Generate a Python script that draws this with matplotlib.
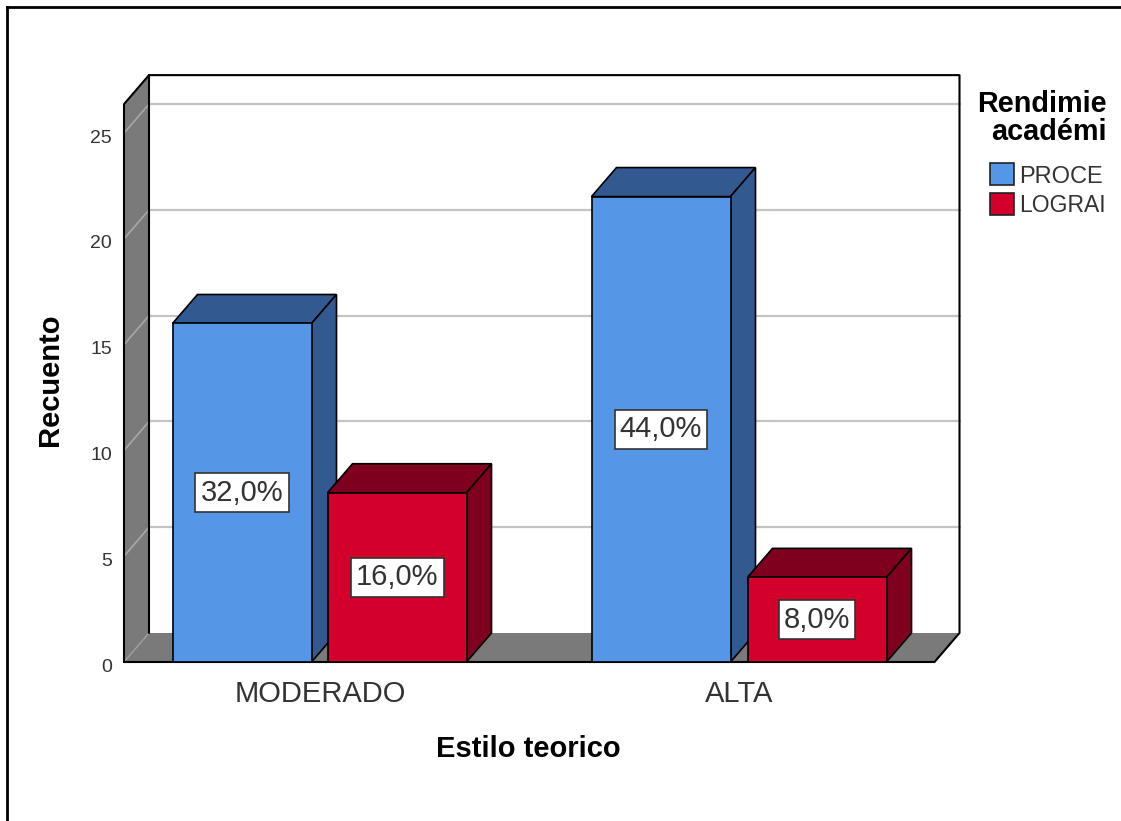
import matplotlib
matplotlib.use("Agg")
import matplotlib.pyplot as plt
from matplotlib.patches import Polygon, Rectangle
from matplotlib.transforms import ScaledTranslation

categories = ["MODERADO", "ALTA"]
series_names = ["PROCE", "LOGRAI"]
legend_title = ["Rendimie", "académi"]
proceso = [16, 22]
logrado = [8, 4]
labels_proceso = ["32,0%", "44,0%"]
labels_logrado = ["16,0%", "8,0%"]
yticks = [0, 5, 10, 15, 20, 25]

W, H = 1121, 821
plt.rcParams['font.family'] = ['Liberation Sans', 'DejaVu Sans']
fig = plt.figure(figsize=(W/100, H/100), dpi=100, facecolor='white')

# Figure frame in pixels
bg = fig.add_axes([0, 0, 1, 1])
bg.set_xlim(0, W); bg.set_ylim(H, 0); bg.axis('off')
bg.plot([7, 7], [821, 7], color='black', lw=2)
bg.plot([7, 1121], [7, 7], color='black', lw=2)

# Data axes
x0, x1, y0 = 124, 934.5, 662
ppu = (662 - 323.5) / 16.0
ymax = 27.74
ytop = y0 - ymax * ppu
ax = fig.add_axes([x0/W, 1 - y0/H, (x1-x0)/W, (y0-ytop)/H])
ax.set_xlim(x0, x1)
ax.set_ylim(0, ymax)
ax.patch.set_alpha(0)
for s in ax.spines.values():
    s.set_visible(False)
ax.set_xticks([320, 739])
ax.set_xticklabels(categories, fontsize=21, color='#333333')
ax.set_yticks(yticks)
ax.set_yticklabels([str(v) for v in yticks], fontsize=14, color='#333333')
ax.tick_params(axis='x', length=0, pad=13)
ax.tick_params(axis='y', length=0, pad=8.5)
shift = ScaledTranslation(0, -3/100, fig.dpi_scale_trans)
for lab in ax.get_yticklabels():
    lab.set_transform(lab.get_transform() + shift)
ax.set_xlabel("Estilo teorico", fontsize=21, fontweight='bold', va='center')
ax.set_ylabel("Recuento", fontsize=21, fontweight='bold', va='center')
ax.xaxis.set_label_coords(528, 749, transform=bg.transData)
ax.yaxis.set_label_coords(49.5, 380, transform=bg.transData)

dx, dy = 25, 29  # depth offset in pixels
dy_u = dy / ppu
wall_grey = '#7a7a7a'


def edge(pts, z=2, color='black', lw=1.5):
    xs, ys = zip(*pts)
    ax.plot(xs, ys, color=color, lw=lw, zorder=z, clip_on=False, solid_capstyle='round')


def poly(pts, fc, z, ec='black', lw=1.2):
    ax.add_patch(Polygon(pts, closed=True, fc=fc, ec=ec, lw=lw, zorder=z, clip_on=False))


# back wall
ax.add_patch(Rectangle((x0+dx, dy_u), x1-x0, ymax-dy_u, fc='white', ec='none', zorder=0.5, clip_on=False))
# floor and left wall
poly([(x0, 0), (x0+dx, dy_u), (x1+dx, dy_u), (x1, 0)], wall_grey, 1, ec='none')
poly([(x0, 0), (x0+dx, dy_u), (x0+dx, ymax), (x0, ymax-dy_u)], wall_grey, 1, ec='none')
# gridlines on back wall and left wall
for v in yticks[1:]:
    edge([(x0+dx, v+dy_u), (x1+dx, v+dy_u)], 0.8, '#c4c4c4', 1.6)
    edge([(x0, v), (x0+dx, v+dy_u)], 1.5, '#a8a8a8', 1.2)
edge([(x0, 0), (x0+dx, dy_u)], 1.5, '#a0a0a0', 1.0)
# outlines
edge([(x0, 0), (x0, ymax-dy_u), (x0+dx, ymax), (x1+dx, ymax), (x1+dx, dy_u), (x1, 0), (x0, 0)])
edge([(x0+dx, dy_u), (x0+dx, ymax)])


def bar3d(left, width, v, front, top, side, label):
    r = left + width
    poly([(left, v), (left+dx, v+dy_u), (r+dx, v+dy_u), (r, v)], top, 4)
    poly([(r, 0), (r+dx, dy_u), (r+dx, v+dy_u), (r, v)], side, 4)
    ax.add_patch(Rectangle((left, 0), width, v, fc=front, ec='black', lw=1.2, zorder=5))
    ax.text(left + width/2, v/2, label, ha='center', va='center', fontsize=21, color='#333333', zorder=6,
            bbox=dict(boxstyle='square,pad=0.18', fc='white', ec='#333333', lw=1.2))


blue = ('#5596e6', '#325a90', '#325a90')
red = ('#d3002c', '#7f001e', '#7f001e')
lefts_b = [172.5, 591.5]
lefts_r = [327.5, 747.5]
bar_w = 139
for i in range(2):
    bar3d(lefts_b[i], bar_w, proceso[i], *blue, labels_proceso[i])
    bar3d(lefts_r[i], bar_w, logrado[i], *red, labels_logrado[i])

# Legend, showing the text as far as the picture shows it
bg.text(977, 104, legend_title[0], ha='left', va='center', fontsize=20.8, fontweight='bold', color='black')
bg.text(991, 132, legend_title[1], ha='left', va='center', fontsize=20.8, fontweight='bold', color='black')
bg.text(1019, 177, series_names[0], ha='left', va='center', fontsize=17, color='#333333')
bg.text(1019, 206, series_names[1], ha='left', va='center', fontsize=16.5, color='#333333')
bg.add_patch(Rectangle((989.5, 163.5), 24, 22, fc=blue[0], ec='#222222', lw=1.2))
bg.add_patch(Rectangle((989.5, 193), 24, 22, fc=red[0], ec='#222222', lw=1.2))

fig.savefig("out.png", dpi=100)
